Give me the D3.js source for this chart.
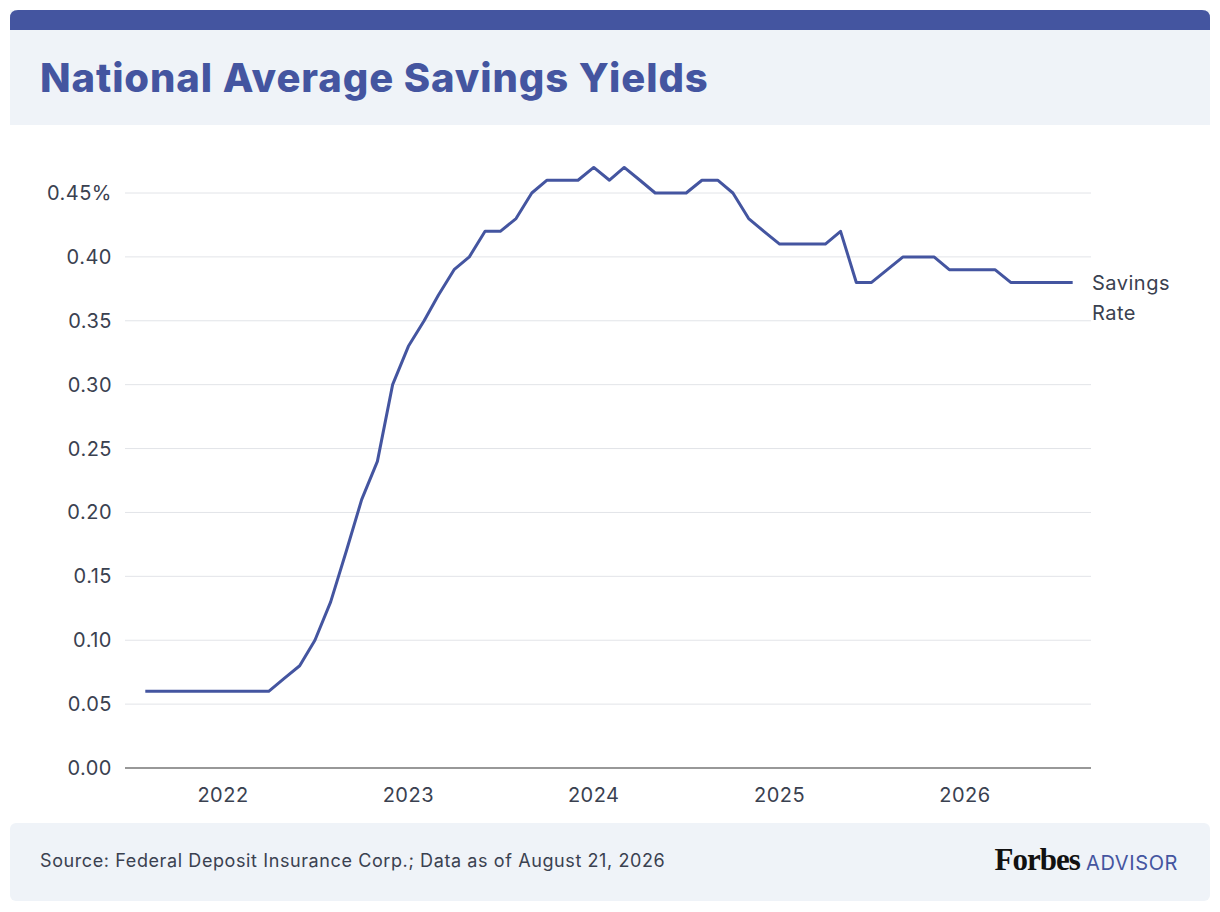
<!DOCTYPE html>
<meta charset="utf-8">
<style>
  body { margin: 0; background: #fff; }
  text { font-family: "Inter", "Noto Sans", sans-serif; }
</style>
<body>
<script src="https://cdn.jsdelivr.net/npm/d3@7"></script>
<script>
var startMonth = new Date(2021, 7, 1);
var rates = [
  0.06, 0.06, 0.06, 0.06, 0.06, 0.06, 0.06, 0.06, 0.06,   // Aug 2021 - Apr 2022
  0.07, 0.08, 0.10, 0.13, 0.17, 0.21, 0.24, 0.30,          // May - Dec 2022
  0.33, 0.35, 0.37, 0.39, 0.40, 0.42, 0.42, 0.43, 0.45, 0.46, 0.46, 0.46, // 2023
  0.47, 0.46, 0.47, 0.46, 0.45, 0.45, 0.45, 0.46, 0.46, 0.45, 0.43, 0.42, // 2024
  0.41, 0.41, 0.41, 0.41, 0.42, 0.38, 0.38, 0.39, 0.40, 0.40, 0.40, 0.39, // 2025
  0.39, 0.39, 0.39, 0.38, 0.38, 0.38, 0.38, 0.38            // Jan - Aug 2026
];
var yTicks = [0, 0.05, 0.10, 0.15, 0.20, 0.25, 0.30, 0.35, 0.40, 0.45];
var xTicks = [2022, 2023, 2024, 2025, 2026];

var data = rates.map(function(v, i) {
  return { date: d3.timeMonth.offset(startMonth, i), value: v };
});

var W = 1220, H = 912, blue = "#4455a0", ink = "#3a4150";
var svg = d3.select("body").append("svg").attr("width", W).attr("height", H);

// header
svg.append("rect").attr("x", 10).attr("y", 10).attr("width", 1200).attr("height", 115)
  .attr("fill", "#eff3f8");
svg.append("path").attr("d", "M10,30 V18 Q10,10 18,10 H1202 Q1210,10 1210,18 V30 Z").attr("fill", blue);
svg.append("text").attr("x", 40).attr("y", 92).text("National Average Savings Yields")
  .attr("font-size", 40).attr("font-weight", 800).attr("fill", blue).attr("letter-spacing", 0.9);

// footer
svg.append("rect").attr("x", 10).attr("y", 823).attr("width", 1200).attr("height", 78)
  .attr("rx", 6).attr("fill", "#eff3f8");
svg.append("text").attr("x", 40).attr("y", 867).attr("font-size", 18).attr("fill", ink)
  .attr("letter-spacing", 0.6)
  .text("Source: Federal Deposit Insurance Corp.; Data as of August 21, 2026");
var logo = svg.append("text").attr("x", 1178).attr("y", 870).attr("text-anchor", "end");
logo.append("tspan").text("Forbes").attr("font-family", "Liberation Serif, serif")
  .attr("font-weight", 700).attr("font-size", 31).attr("fill", "#111").attr("letter-spacing", -1);
logo.append("tspan").text(" ADVISOR").attr("font-size", 20).attr("fill", blue).attr("letter-spacing", 0.6);

var x = d3.scaleTime().domain([new Date(2022, 0, 1), new Date(2026, 0, 1)]).range([223, 965]);
var y = d3.scaleLinear().domain([0, 0.45]).range([768, 193]);

svg.append("g").selectAll("line").data(yTicks.slice(1)).enter().append("line")
  .attr("x1", 125).attr("x2", 1091).attr("y1", y).attr("y2", y)
  .attr("stroke", "#e2e4e8").attr("stroke-width", 1);
svg.append("line").attr("x1", 125).attr("x2", 1091).attr("y1", y(0)).attr("y2", y(0))
  .attr("stroke", "#333").attr("stroke-width", 1.2);

svg.append("g").selectAll("text").data(yTicks).enter().append("text")
  .attr("x", 112).attr("y", function(d) { return y(d) + 7; }).attr("text-anchor", "end")
  .attr("font-size", 20).attr("fill", ink).attr("letter-spacing", 0.5)
  .text(function(d, i) { return d3.format(".2f")(d) + (i === yTicks.length - 1 ? "%" : ""); });

svg.append("g").selectAll("text").data(xTicks).enter().append("text")
  .attr("x", function(d) { return x(new Date(d, 0, 1)); }).attr("y", 802)
  .attr("text-anchor", "middle").attr("font-size", 20).attr("fill", ink).attr("letter-spacing", 0.5)
  .text(String);

var line = d3.line().x(function(d) { return x(d.date); }).y(function(d) { return y(d.value); });
svg.append("path").datum(data).attr("d", line).attr("fill", "none")
  .attr("stroke", blue).attr("stroke-width", 3).attr("stroke-linejoin", "round");

var last = data[data.length - 1];
var lab = svg.append("text").attr("x", 1092).attr("y", y(last.value) + 8)
  .attr("font-size", 20).attr("fill", ink).attr("letter-spacing", 0.5);
lab.append("tspan").text("Savings");
lab.append("tspan").attr("x", 1092).attr("dy", 30).text("Rate");
</script>
</body>
